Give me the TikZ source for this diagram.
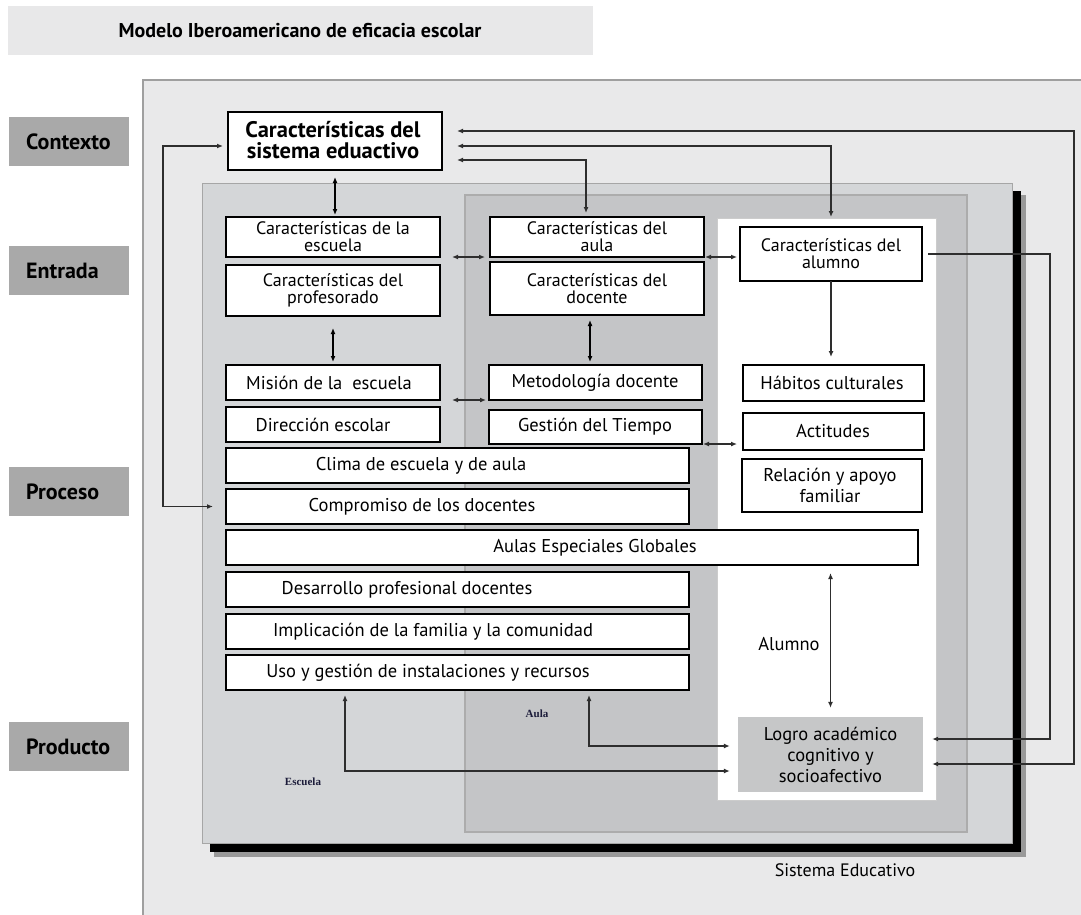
\documentclass[tikz,border=0pt]{standalone}
\usepackage{fontspec}
\setmainfont{PT Sans}
\newfontfamily\serifb{Liberation Serif}
\usetikzlibrary{arrows.meta,calc}
\definecolor{outerbg}{HTML}{E9E9EA}
\definecolor{titlebg}{HTML}{E8E8E9}
\definecolor{labelbg}{HTML}{A9A9A9}
\definecolor{escbg}{HTML}{D4D6D8}
\definecolor{aulabg}{HTML}{C4C5C7}
\definecolor{logrobg}{HTML}{C6C7C8}
\definecolor{linec}{HTML}{2E2E2E}
\definecolor{navyt}{HTML}{1C1C3A}
\newcommand\BX[8]{%
  \node[box, minimum width={(#4)-(#2)}, minimum height={(#5)-(#3)}] (#1) at ({((#2)+(#4))/2},{((#3)+(#5))/2}) {};
  \node[txt,#7] (#1t) at (#6,{((#3)+(#5))/2}) {#8};}
\begin{document}
\begin{tikzpicture}[x=1pt,y=-1pt,
  box/.style={draw=black, line width=2.2pt, fill=white, inner sep=0pt, outer sep=0pt},
  txt/.style={inner sep=0pt, align=center, font=\fontsize{18.5}{21}\selectfont},
  tight/.style={font=\fontsize{18}{17}\selectfont},
  lab/.style={fill=labelbg, inner sep=0pt, minimum width=120pt, minimum height=49pt},
  labt/.style={anchor=west, inner sep=0pt, font=\bfseries\fontsize{22}{24}\selectfont},
  conn/.style={draw=linec, line width=1.3pt, arrows={-Latex[length=6pt,width=5pt]}},
  dbl/.style={draw=linec, line width=1.3pt, arrows={Latex[length=6pt,width=5pt]-Latex[length=6pt,width=5pt]}},
  dblk/.style={draw=black, line width=1.8pt, arrows={Latex[length=6pt,width=5pt]-Latex[length=6pt,width=5pt]}}]
\useasboundingbox (0,0) rectangle (1081,915);
\fill[white] (0,0) rectangle (1081,915);
% title
\node[fill=titlebg, inner sep=0pt, minimum width=585pt, minimum height=49pt] (title) at (300.5,30.5) {};
\node[inner sep=0pt, font=\bfseries\fontsize{20}{24}\selectfont] (titlet) at (300,31) {Modelo Iberoamericano de eficacia escolar};
% outer system box
\fill[outerbg] (143,80) rectangle (1085,920);
\draw[draw=gray!75, line width=1.5pt] (143,920) -- (143,80) -- (1085,80);
\node[inner sep=0pt, font=\fontsize{18}{20}\selectfont] (sist) at (845,870) {Sistema Educativo};
% row labels
\node[lab] (ctx) at (69,141.5) {};
\node[labt] (ctxt) at (26,141.5) {Contexto};
\node[lab] (ent) at (69,270.5) {};
\node[labt] (entt) at (26,270.5) {Entrada};
\node[lab] (pro) at (69,491.5) {};
\node[labt] (prot) at (26,491.5) {Proceso};
\node[lab] (prd) at (69,746.5) {};
\node[labt] (prdt) at (26,746.5) {Producto};
% escuela box with shadow
\fill[black!40] (214,195) rectangle (1026,857);
\fill[black] (210,191) rectangle (1021,852);
\filldraw[fill=escbg, draw=gray!70, line width=1pt] (202,183) rectangle (1012,843);
\filldraw[fill=aulabg, draw=gray!65, line width=1.5pt] (465,195) rectangle (967,832);
\filldraw[fill=white, draw=gray!40, line width=1pt] (717,218) rectangle (936,800);
\node[inner sep=0pt, text=navyt, font=\serifb\bfseries\fontsize{11}{13}\selectfont] (escl) at (303,782) {Escuela};
\node[inner sep=0pt, text=navyt, font=\serifb\bfseries\fontsize{11}{13}\selectfont] (aull) at (537,714) {Aula};
\node[inner sep=0pt, font=\fontsize{18.5}{21}\selectfont] (alul) at (789,644) {Alumno};
% sistema box
\node[box, line width=2.8pt, minimum width=214pt, minimum height=58pt] (sistema) at (335,141) {};
\node[inner sep=0pt, align=center, font=\bfseries\fontsize{22.5}{21}\selectfont] (sistemat) at (333,140) {Características del\\sistema eduactivo};
% boxes
\BX{esc}{226}{217}{440}{257}{333}{tight}{Características de la\\escuela}
\BX{prof}{226}{265}{440}{316}{333}{tight}{Características del\\profesorado}
\BX{aula}{490}{217}{704}{257}{597}{tight}{Características del\\aula}
\BX{doc}{490}{262}{704}{315}{597}{tight}{Características del\\docente}
\BX{alu}{740}{227}{922}{281}{831}{tight}{Características del\\alumno}
\BX{mis}{226}{365}{440}{400}{329}{}{Misión de la\ \ escuela}
\BX{dir}{226}{407}{440}{442}{323}{}{Dirección escolar}
\BX{met}{489}{365}{702}{400}{595}{}{Metodología docente}
\BX{ges}{489}{410}{702}{444}{595}{}{Gestión del Tiempo}
\BX{hab}{743}{365}{924}{401}{832}{}{Hábitos culturales}
\BX{act}{743}{413}{924}{450}{833}{}{Actitudes}
\BX{rel}{742}{459}{922}{512}{830}{}{Relación y apoyo\\familiar}
\BX{cli}{226}{448}{689}{483}{421}{}{Clima de escuela y de aula}
\BX{com}{226}{489}{689}{524}{422}{}{Compromiso de los docentes}
\BX{aes}{226}{530}{918}{565}{595}{}{Aulas Especiales Globales}
\BX{des}{226}{572}{689}{607}{407}{}{Desarrollo profesional docentes}
\BX{imp}{226}{614}{689}{649}{433}{}{Implicación de la familia y la comunidad}
\BX{uso}{226}{655}{689}{690}{428}{}{Uso y gestión de instalaciones y recursos}
\node[fill=logrobg, inner sep=0pt, minimum width=185pt, minimum height=75pt] (logro) at (830.5,754.5) {};
\node[txt] (logrot) at (830.5,754.5) {Logro académico\\cognitivo y\\socioafectivo};
% connectors
\coordinate (rc1) at (1074,764);
\coordinate (rc2) at (1050,739);
\coordinate (lc) at (163,506.5);
\coordinate (u1) at (345,771);
\coordinate (u2) at (589,746);
\draw[dblk, shorten <=7pt, shorten >=2pt] (sistema.south) -- (sistema.south |- esc.north);
\draw[dblk, shorten <=12pt, shorten >=3pt] (prof.south) -- (prof.south |- mis.north);
\draw[dblk, shorten <=5pt, shorten >=3pt] ([xshift=-7pt]doc.south) -- ([xshift=-7pt]doc.south |- met.north);
\draw[dbl, shorten <=12pt, shorten >=5pt] (esc.south east) -- (aula.south west);
\draw[dbl, shorten <=1pt, shorten >=3pt] (aula.south east) -- (alu.west |- aula.south east);
\draw[dbl, shorten <=12pt, shorten >=3pt] (mis.south east) -- (met.south west);
\draw[dbl, shorten <=1pt, shorten >=6pt] (ges.south east) -- (act.west |- ges.south east);
\draw[conn, shorten >=8pt] (alu.south) -- (alu.south |- hab.north);
\draw[dbl, shorten <=8pt, shorten >=9pt] (logro.north |- aes.south) -- (logro.north);
\draw[dbl, shorten <=5pt, shorten >=8pt] (uso.south -| u1) |- (logro.west |- u1);
\draw[dbl, shorten <=5pt, shorten >=8pt] (uso.south -| u2) |- (logro.west |- u2);
\draw[dbl, shorten <=15pt, shorten >=9pt] ([yshift=10pt]sistema.east) -| (rc1) -- (logro.east |- rc1);
\draw[dbl, shorten <=15pt, shorten >=10pt] ([yshift=-5pt]sistema.east) -| (alu.north);
\draw[dbl, shorten <=15pt, shorten >=4pt] ([yshift=-19pt]sistema.east) -| ([xshift=-11pt]aula.north);
\draw[conn, shorten <=6pt, shorten >=9pt] (alu.east) -| (rc2) -- (logro.east |- rc2);
\draw[dbl, shorten <=13pt, shorten >=5pt] (com.west) -- (lc) |- ([yshift=-5pt]sistema.west);
\end{tikzpicture}
\end{document}
